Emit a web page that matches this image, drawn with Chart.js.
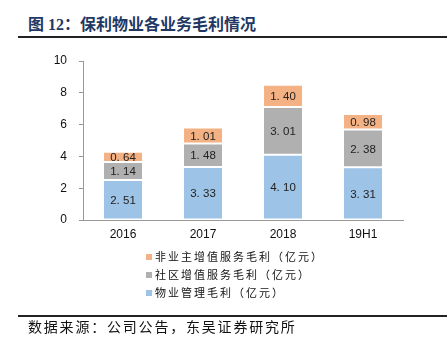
<!DOCTYPE html>
<html>
<head>
<meta charset="utf-8">
<script src="https://cdn.jsdelivr.net/npm/chart.js@4/dist/chart.umd.min.js"></script>
<style>
  html, body { margin: 0; padding: 0; background: #fff; }
  #wrap { position: relative; width: 447px; height: 352px; overflow: hidden; }
  #c { position: absolute; left: 0; top: 0; }
  .title { position: absolute; left: 28px; top: 12px; font-family: "Liberation Serif", "Noto Sans CJK SC", serif; font-weight: bold; font-size: 16px; color: #1f3864; white-space: nowrap; line-height: 22px; }
  .title .cjk { font-family: "Noto Sans CJK SC", sans-serif; }
  .rule { position: absolute; left: 18px; right: 0; height: 2px; background: #222; }
  .legend { position: absolute; left: 146px; top: 247px; font-family: "Noto Sans CJK SC", sans-serif; font-size: 11px; letter-spacing: 2px; color: #111; }
  .legend div { height: 18px; line-height: 18px; white-space: nowrap; }
  .legend span.sw { display: inline-block; width: 6px; height: 6px; margin-right: 3px; vertical-align: 1px; }
  .source { position: absolute; left: 28px; top: 316px; font-family: "Noto Sans CJK SC", sans-serif; font-size: 14px; letter-spacing: 1.8px; color: #111; line-height: 20px; white-space: nowrap; }
</style>
</head>
<body>
<div id="wrap">
  <div class="title">图 12<span class="cjk">：保利物业各业务毛利情况</span></div>
  <div class="rule" style="top:36px"></div>
  <canvas id="c" width="447" height="352"></canvas>
  <div class="legend" id="legend"></div>
  <div class="rule" style="top:315px"></div>
  <div class="source">数据来源：公司公告，东吴证券研究所</div>
</div>
<script>
const categories = ['2016', '2017', '2018', '19H1'];
const propertyMgmt = [2.51, 3.33, 4.10, 3.31];
const communityVAS = [1.14, 1.48, 3.01, 2.38];
const nonOwnerVAS = [0.64, 1.01, 1.40, 0.98];
const yTicks = [0, 2, 4, 6, 8, 10];
const seriesNames = ['物业管理毛利（亿元）', '社区增值服务毛利（亿元）', '非业主增值服务毛利（亿元）'];
const seriesColors = ['#9dc3e6', '#b0b0b0', '#f4b183'];

const labelPlugin = {
  id: 'barLabels',
  afterDatasetsDraw(chart) {
    const ctx = chart.ctx;
    ctx.save();
    ctx.font = '11.5px "Liberation Sans", Arial, sans-serif';
    ctx.fillStyle = '#222';
    ctx.textAlign = 'center';
    ctx.textBaseline = 'middle';
    chart.data.datasets.forEach((ds, i) => {
      const meta = chart.getDatasetMeta(i);
      meta.data.forEach((el, j) => {
        const v = ds.data[j];
        const txt = v.toFixed(2).replace('.', '. ');
        ctx.fillText(txt, el.x, (el.y + el.base) / 2 + 1);
      });
    });
    ctx.restore();
  }
};

const datasets = [propertyMgmt, communityVAS, nonOwnerVAS].map((d, i) => ({
  label: seriesNames[i],
  data: d,
  backgroundColor: seriesColors[i],
  borderColor: '#ffffff',
  borderWidth: 1,
  borderSkipped: false,
  barPercentage: 0.5,
  categoryPercentage: 1.0
}));

new Chart(document.getElementById('c'), {
  type: 'bar',
  data: { labels: categories, datasets },
  options: {
    responsive: false,
    animation: false,
    layout: { padding: { left: 0, right: 44, top: 61, bottom: 102 } },
    plugins: { legend: { display: false }, tooltip: { enabled: false } },
    scales: {
      x: {
        stacked: true,
        grid: { display: false, drawTicks: false },
        border: { display: true, color: '#999' },
        ticks: { font: { family: '"Liberation Sans", Arial, sans-serif', size: 12 }, color: '#111', padding: 7 },
        afterFit: s => { s.height = 30; }
      },
      y: {
        stacked: true,
        min: 0, max: 10,
        afterBuildTicks: s => { s.ticks = yTicks.map(v => ({ value: v })); },
        grid: { display: true, drawOnChartArea: false, drawTicks: true, tickLength: 4, color: '#999' },
        border: { display: true, color: '#999' },
        ticks: { font: { family: '"Liberation Sans", Arial, sans-serif', size: 12 }, color: '#111', padding: 12 },
        afterFit: s => { s.width = 83; }
      }
    }
  },
  plugins: [labelPlugin]
});

const lg = document.getElementById('legend');
[2, 1, 0].forEach(i => {
  const row = document.createElement('div');
  row.innerHTML = '<span class="sw" style="background:' + seriesColors[i] + '"></span>' + seriesNames[i];
  lg.appendChild(row);
});
</script>
</body>
</html>
